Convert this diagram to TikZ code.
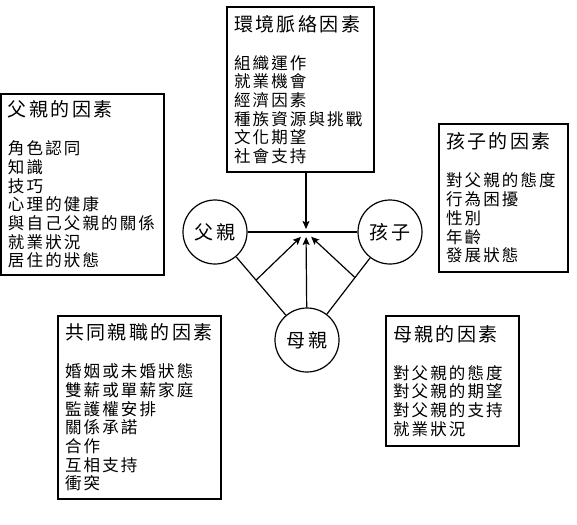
\documentclass[tikz,border=0pt]{standalone}
\usepackage{fontspec}
\usepackage{tikz}
\usetikzlibrary{arrows.meta}
\newfontfamily\cjk[LetterSpace=13]{Noto Sans CJK TC}
\newcommand{\cjkbody}{\cjk\fontsize{16.5pt}{18.7pt}\selectfont}
\newcommand{\cjkhead}{\cjk\fontsize{19pt}{21pt}\selectfont}
\tikzset{
    factorbox/.style={rectangle, draw=black, line width=1.4pt, align=left, inner xsep=7pt, inner ysep=0pt, font=\cjkbody},
    person/.style={circle, draw=black, line width=1.2pt, minimum size=64pt, inner sep=0pt, font=\cjkhead},
    arrow/.style={-{Stealth[length=8pt, width=7pt, inset=1.5pt]}, line width=1.2pt, draw=black, shorten >=7pt},
    link/.style={line width=1.2pt, draw=black}
}

\begin{document}
\begin{tikzpicture}[x=1pt, y=-1pt]
    \useasboundingbox (0,0) rectangle (577,524);
    \node[person] (father) at (215,232) {父親};
    \node[person] (child) at (390,232) {孩子};
    \node[person] (mother) at (307,340) {母親};
    \coordinate (hub) at (306,232);
    \node[factorbox, text width=133pt, minimum height=165pt] (env) at (300.5,89.5) {{\cjkhead 環境脈絡因素}\\[19.3pt]組織運作\\就業機會\\經濟因素\\種族資源與挑戰\\文化期望\\社會支持};
    \node[factorbox, text width=149pt, minimum height=181pt] (fatherf) at (82.5,184.5) {{\cjkhead 父親的因素}\\[19.3pt]角色認同\\知識\\技巧\\心理的健康\\與自己父親的關係\\就業狀況\\居住的狀態};
    \node[factorbox, text width=115pt, minimum height=148pt] (childf) at (503.5,198) {{\cjkhead 孩子的因素}\\[19.3pt]對父親的態度\\行為困擾\\性別\\年齡\\發展狀態};
    \node[factorbox, text width=149pt, minimum height=183pt] (coparentf) at (139.5,407.5) {{\cjkhead 共同親職的因素}\\[19.3pt]婚姻或未婚狀態\\雙薪或單薪家庭\\監護權安排\\關係承諾\\合作\\互相支持\\衝突};
    \node[factorbox, text width=119pt, minimum height=130pt] (motherf) at (452.5,381) {{\cjkhead 母親的因素}\\[19.3pt]對父親的態度\\對父親的期望\\對父親的支持\\就業狀況};
    \draw[link] (father) -- (child);
    \draw[link] (father) -- coordinate[pos=.4] (fm) (mother);
    \draw[link] (child) -- coordinate[pos=.35] (cm) (mother);
    \draw[arrow, shorten >=3pt] (env.south -| hub) -- (hub);
    \draw[arrow, shorten >=5pt] (mother) -- (hub);
    \draw[arrow] (fm) -- (hub);
    \draw[arrow] (cm) -- (hub);
\end{tikzpicture}
\end{document}
